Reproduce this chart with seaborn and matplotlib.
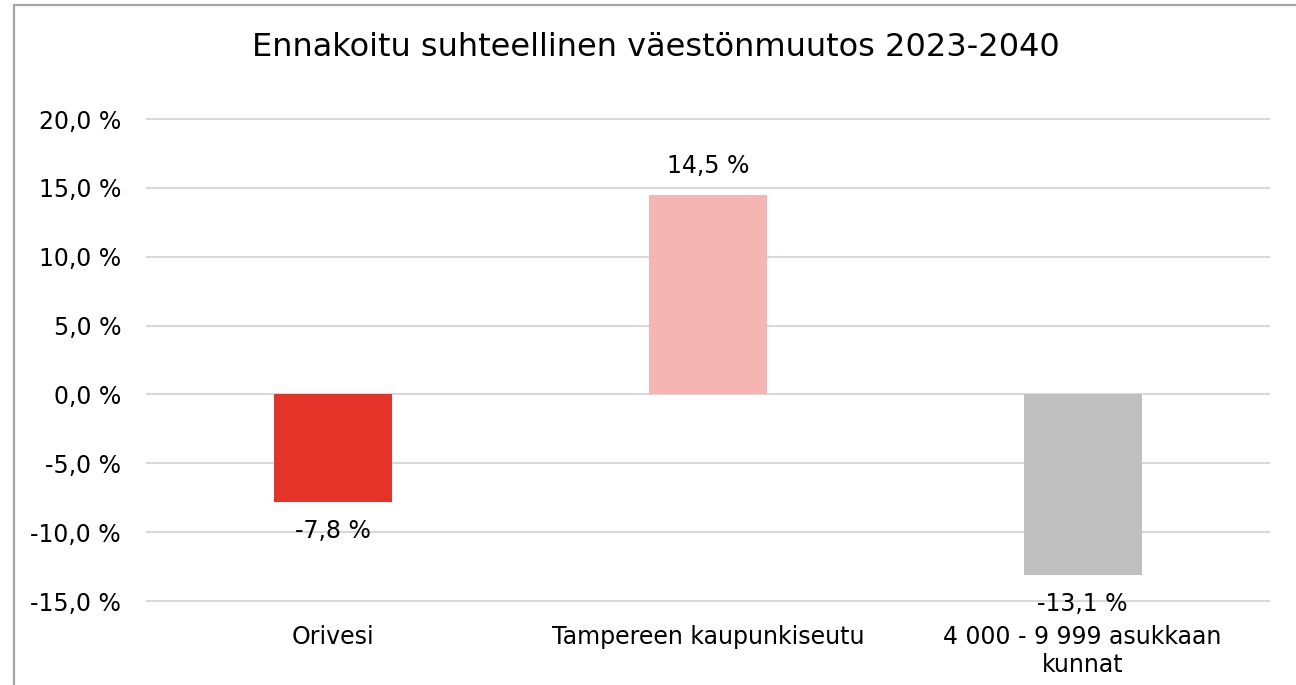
import matplotlib
matplotlib.use("Agg")
import matplotlib.pyplot as plt
import seaborn as sns
import pandas as pd
from matplotlib.lines import Line2D

categories = ["Orivesi", "Tampereen kaupunkiseutu", "4 000 - 9 999 asukkaan\nkunnat"]
values = [-7.8, 14.5, -13.1]
colors = ["#E5332A", "#F4B5B3", "#BFBFBF"]
yticks = [-15, -10, -5, 0, 5, 10, 15, 20]
title = "Ennakoitu suhteellinen väestönmuutos 2023-2040"

sns.set_theme(style="white")
plt.rcParams["font.family"] = ["DejaVu Sans"]

df = pd.DataFrame({"cat": categories, "val": values})

fig = plt.figure(figsize=(12.96, 6.85), dpi=100)
ax = fig.add_axes([146/1296, 1-601/685, (1270-146)/1296, (601-119)/685])

sns.barplot(data=df, x="cat", y="val", hue="cat", palette=colors, legend=False,
            width=0.315, ax=ax, saturation=1, linewidth=0, zorder=3)

fs = 17
ax.set_ylim(-15, 20)
ax.set_xlim(-0.5, 2.5)
ax.set_yticks(yticks)
ax.set_yticklabels([f"{t:.1f} %".replace(".", ",") for t in yticks], fontsize=fs, color="black")
ax.yaxis.grid(True, color="#D9D9D9", linewidth=1.5, zorder=0)
for gl in ax.get_ygridlines():
    gl.set_clip_on(False)
    gl.set_solid_capstyle("butt")
ax.set_axisbelow(True)
for s in ax.spines.values():
    s.set_visible(False)
ax.tick_params(axis="y", length=0, pad=18, labelcolor="black")
ax.tick_params(axis="x", length=0, pad=17, labelsize=fs, labelcolor="black")
for lab in ax.get_xticklabels():
    lab.set_linespacing(1.25)
ax.set_xlabel("")
ax.set_ylabel("")

for cont in ax.containers:
    ax.bar_label(cont, labels=[f"{b.get_height():.1f} %".replace(".", ",") for b in cont],
                 padding=12, fontsize=fs, color="black")

fig.text(0.506, 1-48/685, title, ha="center", va="center", fontsize=23, color="black")

# figure border
bc = "#A6A6A6"
fig.add_artist(Line2D([14/1296, 14/1296], [0, 1-5/685], color=bc, linewidth=1.6, transform=fig.transFigure))
fig.add_artist(Line2D([14/1296, 1], [1-5/685, 1-5/685], color=bc, linewidth=1.6, transform=fig.transFigure))

fig.savefig("out.png", dpi=100, facecolor="white")
